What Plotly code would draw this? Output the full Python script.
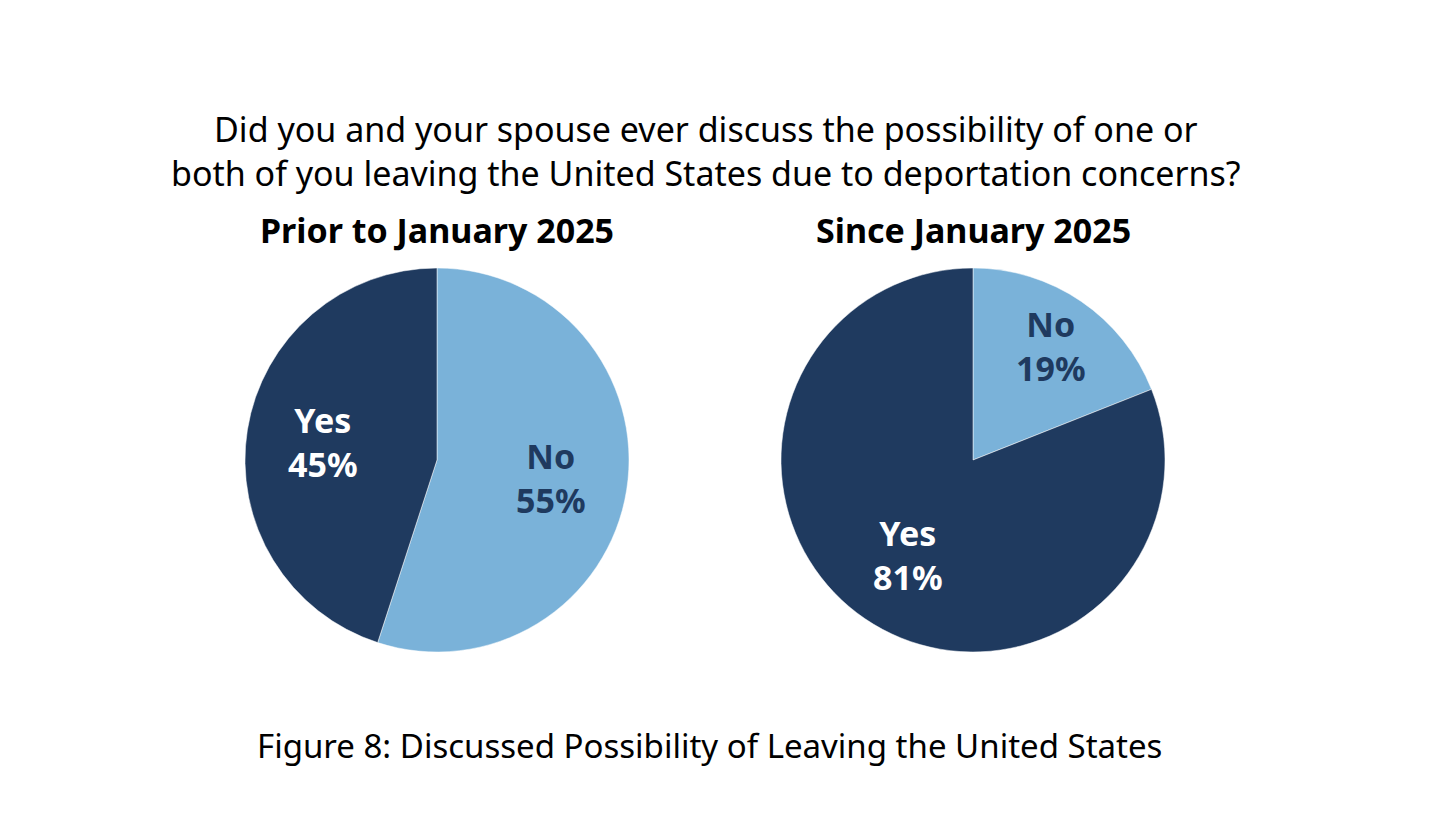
import math
import plotly.graph_objects as go

# data
labels = ["No", "Yes"]
prior_vals = [55, 45]
since_vals = [19, 81]
panel_titles = ["Prior to January 2025", "Since January 2025"]
question = ("Did you and your spouse ever discuss the possibility of one or<br>"
            "both of you leaving the United States due to deportation concerns?")
caption = "Figure 8: Discussed Possibility of Leaving the United States"

W, H = 1456, 824
OFF = 8  # page body margin, positions below are page pixels
NAVY = "#1f3a5f"
LIGHT = "#7ab2d9"
FONT = "Noto Sans"


def px(x):
    return (x - OFF) / W


def py(y):
    return 1 - (y - OFF) / H


# pie geometry in page pixels (center x, center y, radius)
pies = [(437, 460, 192), (973, 460, 192)]

fig = go.Figure()
annotations = []

for (cx, cy, r), vals, ttl in zip(pies, [prior_vals, since_vals], panel_titles):
    fig.add_trace(go.Pie(
        labels=labels,
        values=vals,
        sort=False,
        direction="clockwise",
        rotation=0,
        textinfo="none",
        hoverinfo="label+percent",
        marker=dict(colors=[LIGHT, NAVY], line=dict(color="white", width=0.5)),
        domain=dict(x=[px(cx - r), px(cx + r)],
                    y=[py(cy + r), py(cy - r)]),
        showlegend=False,
    ))

    # slice labels along the bisector of each slice
    total = sum(vals)
    start = 0
    for lab, v in zip(labels, vals):
        frac = v / total
        mid = (start + frac / 2) * 2 * math.pi
        start += frac
        rr = 0.72 * r if frac < 0.25 else 0.6 * r
        x = cx + rr * math.sin(mid)
        y = cy - rr * math.cos(mid)
        annotations.append(dict(
            x=px(x), y=py(y), xref="paper", yref="paper",
            text=f"<b>{lab}<br>{v}%</b>", showarrow=False,
            font=dict(family=FONT, size=34, color="white" if lab == "Yes" else NAVY),
            xanchor="center", yanchor="middle", align="center",
        ))

    annotations.append(dict(
        x=px(cx), y=py(230), xref="paper", yref="paper",
        text=f"<b>{ttl}</b>", showarrow=False,
        font=dict(family=FONT, size=34, color="black"),
        xanchor="center", yanchor="middle",
    ))

annotations.append(dict(
    x=px(706), y=py(151), xref="paper", yref="paper",
    text=question, showarrow=False,
    font=dict(family=FONT, size=34, color="black"),
    xanchor="center", yanchor="middle", align="center",
))
annotations.append(dict(
    x=px(709), y=py(745), xref="paper", yref="paper",
    text=caption, showarrow=False,
    font=dict(family=FONT, size=33, color="black"),
    xanchor="center", yanchor="middle",
))

fig.update_layout(
    width=W, height=H,
    margin=dict(l=0, r=0, t=0, b=0),
    paper_bgcolor="white",
    plot_bgcolor="white",
    annotations=annotations,
)

fig.write_html("out.html")
